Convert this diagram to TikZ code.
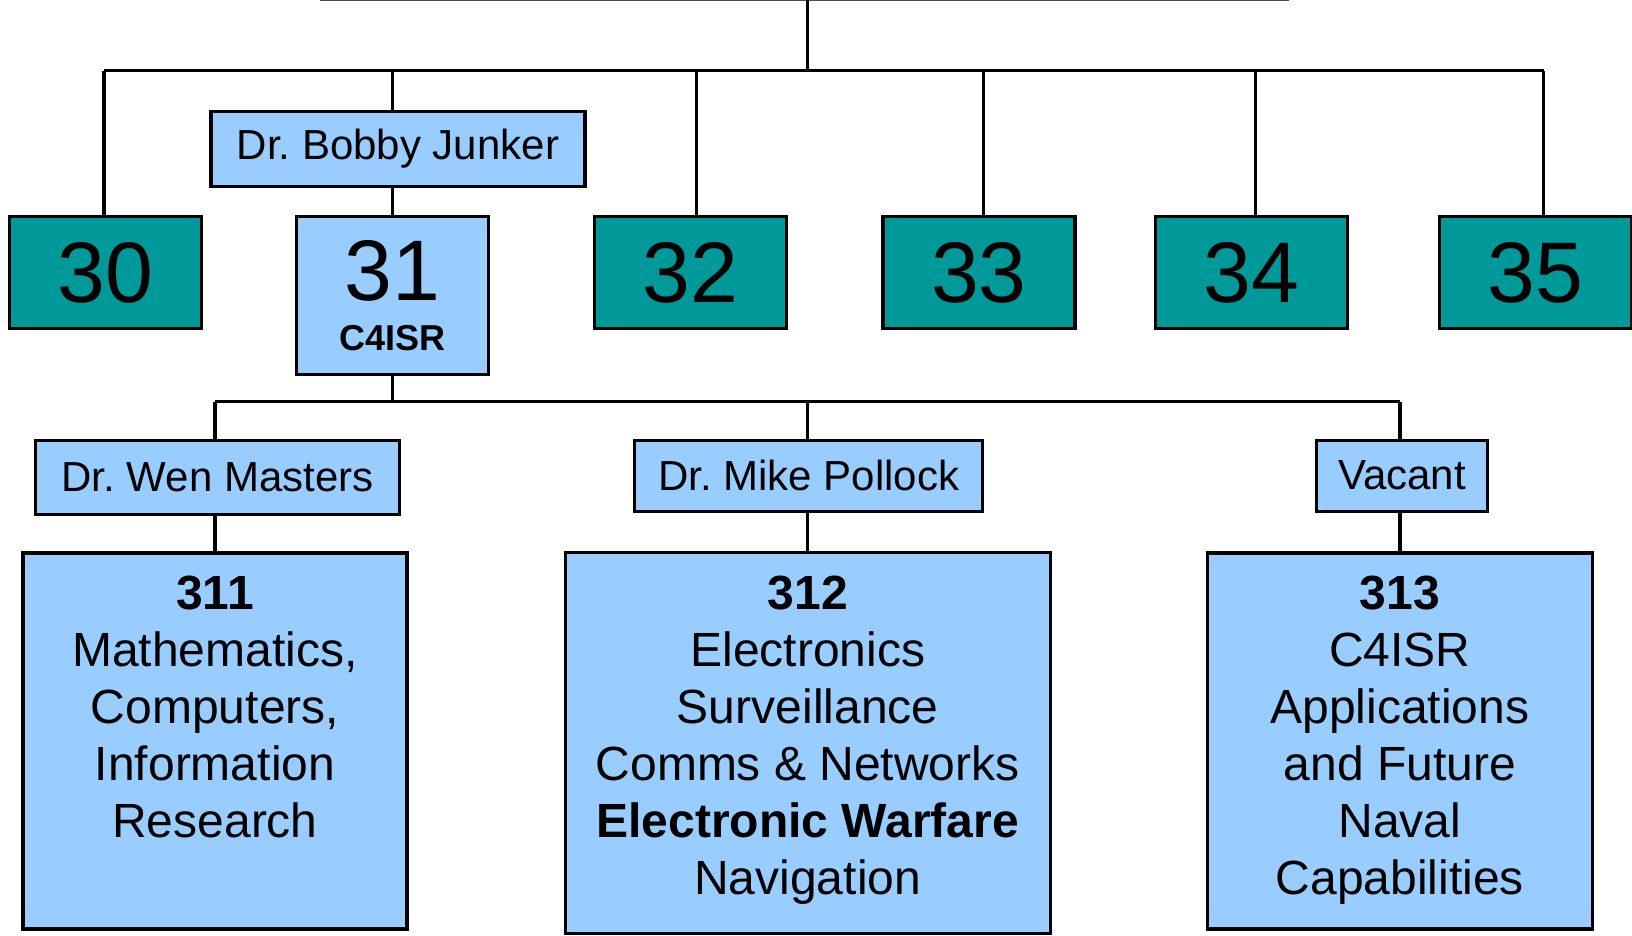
\documentclass[tikz,border=0pt]{standalone}
\usepackage{fontspec}
\setmainfont{Liberation Sans}
\frenchspacing
\definecolor{tealbox}{RGB}{0,153,153}
\definecolor{bluebox}{RGB}{153,204,255}
\begin{document}
\begin{tikzpicture}[x=0.5pt,y=-0.5pt,
  group/.style={draw,line width=1.6pt,fill=tealbox,minimum width=96pt,minimum height=56pt,inner sep=0pt,font=\fontsize{43}{43}\selectfont},
  person/.style={draw,line width=1.6pt,fill=bluebox,minimum height=36pt,inner sep=0pt,font=\fontsize{21}{21}\selectfont},
  branch/.style={draw,line width=1.6pt,fill=bluebox,inner sep=0pt},
  body/.style={align=center,inner sep=0pt,anchor=north,font=\fontsize{24}{28.5}\selectfont},
  link/.style={line width=1.7pt}]
\useasboundingbox (0,0) rectangle (1632,936);
\coordinate (headL) at (319.5,0.5);
\coordinate (headR) at (1288.5,0.5);
\coordinate (head) at (807.7,0);
\coordinate (bus) at (807.7,70.8);
\coordinate (bus2) at (807.7,401.7);
\node[group] (g30) at (105.6,272.7) {30};
\node[branch,minimum width=96pt,minimum height=79pt] (g31) at (392.4,295.6) {};
\node[group] (g32) at (690.6,272.7) {32};
\node[group] (g33) at (978.9,272.7) {33};
\node[group] (g34) at (1251.5,272.7) {34};
\node[group] (g35) at (1535.7,272.7) {35};
\node[font=\fontsize{43}{43}\selectfont,inner sep=0pt] (n31) at (392.4,270.6) {31};
\node[font=\fontsize{18}{18}\selectfont\bfseries,inner sep=0pt] (c31) at (392.4,338) {C4ISR};
\node[person,minimum width=187pt,minimum height=37.5pt] (bobby) at (398,148.8) {Dr. Bobby Junker};
\node[person,minimum width=182pt,minimum height=37pt] (wen) at (217.5,477.2) {Dr. Wen Masters};
\node[person,minimum width=174pt,minimum height=35.5pt] (mike) at (808.7,475.7) {Dr. Mike Pollock};
\node[person,minimum width=85.5pt,minimum height=35.5pt] (vacant) at (1402,475.7) {Vacant};
\node[branch,minimum width=192pt,minimum height=188pt] (u311) at (215,741) {};
\node[branch,minimum width=242.5pt,minimum height=190.5pt] (u312) at (807.7,743.2) {};
\node[branch,minimum width=192.5pt,minimum height=188pt] (u313) at (1399.9,741) {};
\node[body] (t311) at (215,575.6) {\textbf{311}\\Mathematics,\\Computers,\\Information\\Research};
\node[body] (t312) at (807.7,575.6) {\textbf{312}\\Electronics\\Surveillance\\Comms \& Networks\\\textbf{Electronic Warfare}\\Navigation};
\node[body] (t313) at (1399.9,575.6) {\textbf{313}\\C4ISR\\Applications\\and Future\\Naval\\Capabilities};
\coordinate (d30) at ([xshift=-0.8pt]g30.north);
\coordinate (d32) at ([xshift=2.8pt]g32.north);
\coordinate (d33) at ([xshift=2.4pt]g33.north);
\coordinate (d34) at ([xshift=1.9pt]g34.north);
\coordinate (d35) at ([xshift=3.9pt]g35.north);
\draw[gray!60!black,line width=1pt] (headL) -- (headR);
\draw[link] (head) -- (bus);
\draw[link] (d30 |- bus) -- (d35 |- bus);
\draw[link] (d30) -- (d30 |- bus);
\draw[link] (g31.north) -- (g31.north |- bobby.south);
\draw[link] (g31.north |- bobby.north) -- (g31.north |- bus);
\draw[link] (d32) -- (d32 |- bus);
\draw[link] (d33) -- (d33 |- bus);
\draw[link] (d34) -- (d34 |- bus);
\draw[link] (d35) -- (d35 |- bus);
\draw[link] (g31.south) -- (g31.south |- bus2);
\draw[link] (u311.north |- bus2) -- (u313.north |- bus2);
\draw[link] (u311.north) -- (u311.north |- wen.south);
\draw[link] (u311.north |- wen.north) -- (u311.north |- bus2);
\draw[link] (u312.north) -- (u312.north |- mike.south);
\draw[link] (u312.north |- mike.north) -- (u312.north |- bus2);
\draw[link] (u313.north) -- (u313.north |- vacant.south);
\draw[link] (u313.north |- vacant.north) -- (u313.north |- bus2);
\end{tikzpicture}
\end{document}
